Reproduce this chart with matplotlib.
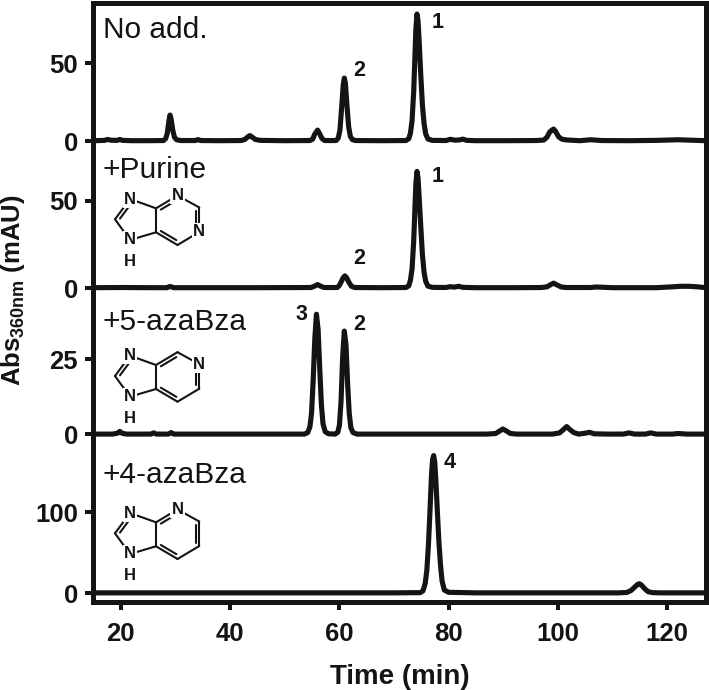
#!/usr/bin/env python3
"""HPLC traces (Abs 360 nm) for the four supplementation conditions."""
import numpy as np
import matplotlib
matplotlib.use("Agg")
import matplotlib.pyplot as plt

plt.rcParams.update({"font.family": "Liberation Sans", "mathtext.fontset": "custom",
                     "mathtext.bf": "Liberation Sans:bold", "mathtext.rm": "Liberation Sans"})
INK = "#141414"
W, H = 709, 690

# --- traces: retention time (min), absorbance (mAU)
no_add_t = [15.1, 17, 17.6, 18.2, 19.3, 19.8, 20.3, 22, 25, 27.8, 28.2, 28.5, 28.8, 29.0, 29.2, 29.5, 29.8, 30.2,
            31, 33.6, 34.1, 34.6, 38, 42, 42.7, 43.2, 43.6, 44, 44.6, 45.5, 50, 54.6, 55.1, 55.5, 56, 56.4, 56.8,
            57.3, 59.4, 59.8, 60.1, 60.4, 60.7, 60.9, 61.1, 61.4, 61.7, 62, 62.4, 63, 68, 72.2, 72.7, 73, 73.3,
            73.6, 73.8, 74.0, 74.2, 74.4, 74.6, 74.9, 75.2, 75.5, 75.8, 76.2, 77, 79.5, 80.3, 81.2, 82, 82.6, 83.3,
            85, 90, 96, 97.4, 98, 98.5, 98.9, 99.2, 99.6, 100.1, 100.7, 101.5, 104, 106, 108, 113, 118, 122, 124.5, 127.1]
no_add_v = [0.2, 0.4, 1.0, 0.5, 0.4, 1.0, 0.4, 0.2, 0.2, 0.3, 1.5, 5, 13, 16.7, 14, 7, 2.5, 0.8,
            0.3, 0.3, 0.9, 0.3, 0.2, 0.3, 1.0, 2.6, 3.5, 2.6, 1.0, 0.4, 0.2, 0.3, 1.2, 4.5, 7, 4.6, 1.6,
            0.3, 0.3, 2, 7, 21, 36, 40.5, 37, 22, 9, 3, 0.8, 0.3, 0.2, 0.3, 1.5, 5, 13,
            32, 52, 72, 81.7, 77, 64, 42, 23, 11, 4.5, 1.3, 0.4, 0.3, 1.1, 0.5, 0.7, 1.2, 0.4,
            0.2, 0.2, 0.3, 0.6, 2.5, 5.8, 7, 7.7, 6, 2.8, 1.2, 0.7, 0.2, 0.8, 0.3, 0.2, 0.4, 0.8, 0.5, 0.2]

purine_t = [15.1, 20, 26, 28.4, 29, 29.7, 34, 45, 54.8, 55.4, 56, 56.6, 57.2, 59.6, 60, 60.4, 60.7, 61, 61.3, 61.7, 62.2,
            62.8, 68, 72.2, 72.7, 73, 73.3, 73.6, 73.8, 74.0, 74.2, 74.4, 74.6, 74.9, 75.2, 75.5, 75.8, 76.2, 77, 79.5,
            80.3, 81, 81.8, 82.6, 85, 92, 97, 98, 98.7, 99.2, 99.8, 100.6, 101.5, 106, 107, 110, 118, 121, 122.5, 124,
            125.5, 127.1]
purine_v = [0.2, 0.3, 0.2, 0.2, 0.9, 0.2, 0.2, 0.2, 0.3, 1.0, 2.0, 1.0, 0.3, 0.3, 1.5, 4, 6, 7, 6, 3.5, 1,
            0.3, 0.2, 0.3, 1.3, 4.5, 11, 27, 44, 60, 67, 63, 52, 35, 19, 9, 3.8, 1.1, 0.4, 0.3,
            0.8, 0.5, 1.0, 0.4, 0.2, 0.2, 0.3, 0.7, 2.0, 2.8, 1.8, 0.6, 0.3, 0.3, 0.6, 0.2, 0.2, 0.7, 1.0, 1.0,
            0.7, 0.2]

azabza5_t = [15.1, 18.5, 19.4, 19.8, 20.2, 21, 25.5, 26, 26.5, 28.7, 29.2, 29.7, 35, 45, 53.6, 54.2, 54.6, 54.9, 55.2, 55.5,
             55.8, 56.1, 56.4, 56.7, 57, 57.4, 58, 59.2, 59.7, 60, 60.3, 60.6, 60.9, 61.2, 61.5, 61.8, 62.1, 62.5, 63.2,
             70, 80, 87, 88.6, 89.4, 89.9, 90.5, 91.3, 92.5, 99, 100.3, 101, 101.6, 102.2, 102.9, 103.8, 105, 105.8,
             106.6, 109, 112, 113, 114, 116, 117, 118, 121, 122, 123.5, 127.1]
azabza5_v = [0.1, 0.1, 0.4, 1.0, 0.4, 0.1, 0.1, 0.5, 0.1, 0.1, 0.6, 0.1, 0.1, 0.1, 0.1, 0.6, 2.5, 7, 18, 32,
             40, 35, 22, 10, 3.5, 0.9, 0.2, 0.1, 0.7, 3, 11, 26, 34.4, 30, 17, 7, 2.2, 0.6, 0.1,
             0.1, 0.1, 0.1, 0.3, 1.2, 1.8, 1.2, 0.3, 0.1, 0.1, 0.5, 1.6, 2.6, 1.6, 0.6, 0.1, 0.4, 0.7,
             0.2, 0.1, 0.1, 0.5, 0.1, 0.1, 0.5, 0.1, 0.1, 0.3, 0.1, 0.1]

azabza4_t = [15.1, 30, 50, 70, 74.8, 75.3, 75.7, 76, 76.3, 76.6, 76.85, 77.05, 77.25, 77.45, 77.65, 77.9, 78.2, 78.5,
             78.8, 79.2, 80, 85, 100, 111, 112.6, 113.4, 114.1, 114.6, 114.9, 115.3, 115.9, 116.5, 117.3, 119, 127.1]
azabza4_v = [0.5, 0.5, 0.5, 0.5, 0.8, 3, 12, 28, 60, 105, 145, 165, 170, 162, 140, 105, 65, 35,
             15, 4, 1.2, 0.5, 0.5, 0.5, 1, 3.5, 8, 11, 11.8, 10, 5.5, 2, 0.8, 0.5, 0.5]

panel_labels = ["No add.", "+Purine", "+5-azaBza", "+4-azaBza"]
x_ticks = [20, 40, 60, 80, 100, 120]
y_ticks = [[0, 50], [0, 50], [0, 25], [0, 100]]
y_limits = [(-3.86, 88.8), (-4.0, 81.0), (-2.2, 46.4), (-10.4, 188.0)]
peak_names = [["1", "2"], ["1", "2"], ["3", "2"], ["4"]]
peak_xy = [[(437.7, 22), (359, 70)], [(437.7, 177), (359, 259)], [(301, 315), (359, 324.5)], [(450, 462)]]
traces = [(no_add_t, no_add_v), (purine_t, purine_v), (azabza5_t, azabza5_v), (azabza4_t, azabza4_v)]

# panel edges in image pixels
panel_edges = [3, 147, 295, 441, 601.7]
left, right = 93, 706
title_xy = [(103, 38), (103, 178), (103, 330.5), (103, 483)]

fig = plt.figure(figsize=(W / 100, H / 100), dpi=100, facecolor="white")
axes = []
for i, (t, v) in enumerate(traces):
    top, bot = panel_edges[i], panel_edges[i + 1]
    ax = fig.add_axes([left / W, 1 - bot / H, (right - left) / W, (bot - top) / H])
    ax.plot(t, v, color=INK, lw=3.7, solid_joinstyle="round", solid_capstyle="butt")
    ax.set_xlim(14.9, 127.1)
    ax.set_ylim(*y_limits[i])
    ax.set_yticks(y_ticks[i])
    ax.tick_params(axis="y", length=5.8, width=2.9, color=INK, labelsize=18.5, labelcolor=INK, pad=5)
    ax.tick_params(axis="x", length=5.8, width=2.9, color=INK, labelsize=18.5, labelcolor=INK, pad=9,
                   bottom=i == 3, labelbottom=i == 3)
    ax.set_xticks(x_ticks)
    for lab in ax.get_xticklabels() + ax.get_yticklabels():
        lab.set_fontweight("bold")
    for name, sp in ax.spines.items():
        sp.set_linewidth(3.6)
        sp.set_color(INK)
    ax.spines["top"].set_visible(i == 0)
    ax.spines["bottom"].set_visible(i == 3)
    ax.patch.set_alpha(0)
    axes.append(ax)
axes[3].set_xlabel("Time (min)", fontsize=20, fontweight="bold", color=INK, labelpad=13)
fig.text(13 / W, 1 - 290 / H, r"Abs$_{\mathbf{360nm}}$ (mAU)", rotation=90, fontsize=18.5, fontweight="bold",
         color=INK, ha="center", va="center")

# overlay in image pixels for labels and the structures
over = fig.add_axes([0, 0, 1, 1])
over.set_xlim(0, W); over.set_ylim(H, 0)
over.axis("off"); over.patch.set_alpha(0)

for s, (x, y) in zip(panel_labels, title_xy):
    over.text(x, y, s, fontsize=21.5, color=INK, va="baseline", ha="left")
for names, xys in zip(peak_names, peak_xy):
    for s, (x, y) in zip(names, xys):
        over.text(x, y, s, fontsize=15.5, fontweight="bold", color=INK, ha="center", va="center")

# ring atoms of the fused bicycle, pixel offsets
C8, N_TOP, N_BOT = (115, 219.3), (130, 199), (130, 240)
C4, C5 = (156, 208.3), (156, 232.3)
A_TOP, A_RT, A_RB, A_BOT = (177.5, 195.5), (199.3, 207.5), (199.3, 232), (177.5, 245)
H_POS = (130, 262)
SIX, FIVE = (177.5, 220), (135, 220)
singles = [(N_TOP, C4), (C8, N_BOT), (N_BOT, C5), (C4, C5), (A_TOP, A_RT), (A_RB, A_BOT)]
doubles = [(C8, N_TOP, FIVE), (C4, A_TOP, SIX), (A_RT, A_RB, SIX), (A_BOT, C5, SIX)]


def structure(dy, hetero):
    kw = dict(color=INK, lw=1.5, solid_capstyle="round")
    for p, q in singles:
        over.plot([p[0], q[0]], [p[1] + dy, q[1] + dy], **kw)
    for p, q, c in doubles:
        p, q, c = np.array(p, float), np.array(q, float), np.array(c, float)
        over.plot([p[0], q[0]], [p[1] + dy, q[1] + dy], **kw)
        d = q - p
        n = np.array([-d[1], d[0]]) / np.hypot(*d)
        if np.dot(n, c - p) < 0:
            n = -n
        a, b = p + d * 0.14 + n * 3.6, q - d * 0.14 + n * 3.6
        over.plot([a[0], b[0]], [a[1] + dy, b[1] + dy], **kw)
    for x, y in [N_TOP, N_BOT] + hetero:
        over.text(x, y + dy, "N", fontsize=12, fontweight="bold", color=INK, ha="center", va="center", zorder=5,
                  bbox=dict(fc="white", ec="none", pad=0.8))
    over.text(H_POS[0], H_POS[1] + dy, "H", fontsize=12, fontweight="bold", color=INK, ha="center", va="center")


structure(0, [A_TOP, A_RB])
structure(156.7, [A_RT])
structure(314, [A_TOP])

fig.savefig("out.png", dpi=100)
